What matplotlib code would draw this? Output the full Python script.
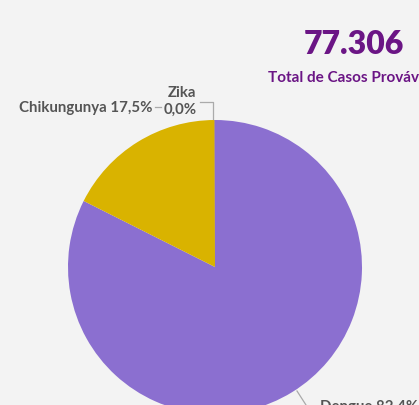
import matplotlib.pyplot as plt

plt.rcParams['font.family'] = ['Lato', 'DejaVu Sans']

# data
categories = ['Dengue', 'Chikungunya', 'Zika']
cases = [63712, 13560, 34]
pct_labels = ['82,4%', '17,5%', '0,0%']
colors = ['#8b6fd0', '#d9b300', '#6a3fa0']
total_label = '77.306'
total_caption = 'Total de Casos Prováveis'

W, H = 419, 406
fig = plt.figure(figsize=(W / 100, H / 100), dpi=100, facecolor='#f3f3f3')
ax = fig.add_axes([0, 0, 1, 1])
ax.set_facecolor('#f3f3f3')

cx, cy, r = 215, H - 268, 147
wedges, _ = ax.pie(cases, colors=colors, startangle=90, counterclock=False,
                   center=(cx, cy), radius=r, frame=True,
                   wedgeprops=dict(linewidth=0))
ax.set_xlim(0, W)
ax.set_ylim(0, H)
ax.axis('off')

lab = dict(color='#555555', fontsize=10.8, fontweight='bold')
line = dict(color='#aaaaaa', lw=0.9)

# Chikungunya label
ax.text(152, H - 108, f'{categories[1]} {pct_labels[1]}', ha='right', va='center', **lab)
ax.plot([155, 161], [H - 108, H - 108], **line)

# Zika label
ax.text(182, H - 93, categories[2], ha='center', va='center', **lab)
ax.text(180, H - 110, pct_labels[2], ha='center', va='center', **lab)
ax.plot([200, 213, 213], [H - 103, H - 103, H - 120], **line)

# Dengue label
ax.plot([297, 306], [H - 392, H - 406], **line)
ax.text(320, H - 407, f'{categories[0]} {pct_labels[0]}', ha='left', va='center', **lab)

# card total
ax.text(354, H - 45, total_label, ha='center', va='center', fontsize=23,
        fontweight='heavy', color='#6b1585')
ax.text(268, H - 78, total_caption, ha='left', va='center', fontsize=11,
        fontweight='bold', color='#6b1585')

fig.savefig('out.png', dpi=100, facecolor=fig.get_facecolor())
